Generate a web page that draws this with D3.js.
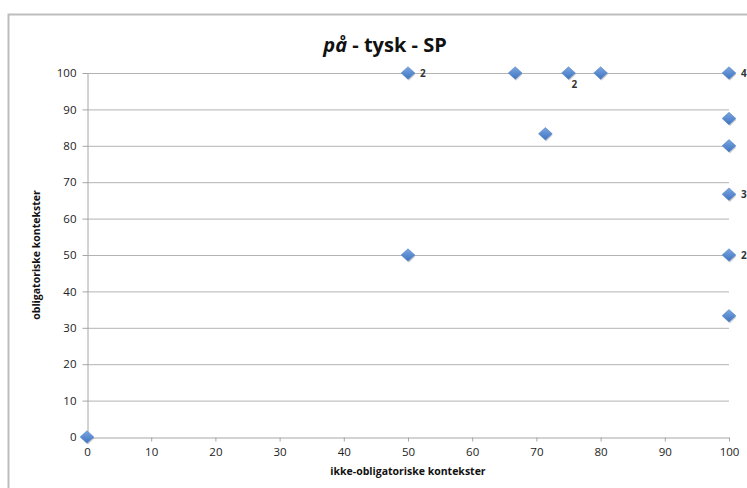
<!DOCTYPE html>
<html>
<head>
<meta charset="utf-8">
<script src="https://cdn.jsdelivr.net/npm/d3@7"></script>
<style>
  body { margin: 0; background: #fff; }
  svg { display: block; font-family: "Open Sans", "Liberation Sans", sans-serif; }
</style>
</head>
<body>
<svg id="chart"></svg>
<script>
// scatter points (ikke-obligatoriske, obligatoriske)
var xValues = [0, 50, 50, 66.7, 71.4, 75, 80, 100, 100, 100, 100, 100, 100];
var yValues = [0, 50, 100, 100, 83.3, 100, 100, 100, 87.5, 80, 66.7, 50, 33.3];
// count labels beside some points
var pointLabels = ["", "", "2", "", "", "2", "", "47", "", "", "3", "2", ""];
var xTicks = [0, 10, 20, 30, 40, 50, 60, 70, 80, 90, 100];
var yTicks = [0, 10, 20, 30, 40, 50, 60, 70, 80, 90, 100];

var points = xValues.map(function(x, i) {
  return { x: x, y: yValues[i], label: pointLabels[i] };
});

var svg = d3.select("#chart").attr("width", 747).attr("height", 488);

var margin = { left: 87, top: 73 },
  width = 642,
  height = 364;

var xScale = d3.scaleLinear().domain([0, 100]).range([0, width]);
var yScale = d3.scaleLinear().domain([0, 100]).range([height, 0]);

// outer chart frame (runs off the right and bottom edge)
svg.append("rect")
  .attr("x", 8.5).attr("y", 14.5)
  .attr("width", 800).attr("height", 500)
  .attr("fill", "none")
  .attr("stroke", "#bdbdbd")
  .attr("stroke-width", 2);

// title
var title = svg.append("text")
  .attr("x", 385).attr("y", 52)
  .attr("text-anchor", "middle")
  .attr("font-size", "20px")
  .attr("font-weight", "bold")
  .attr("fill", "#111");
title.append("tspan").attr("font-style", "italic").text("på");
title.append("tspan").text(" - tysk - SP");

var g = svg.append("g").attr("transform", "translate(" + margin.left + "," + margin.top + ")");

// gridlines
g.selectAll("line.grid")
  .data(yTicks.filter(function(d) { return d > 0; }))
  .enter()
  .append("line")
  .attr("class", "grid")
  .attr("x1", 0).attr("x2", width)
  .attr("y1", function(d) { return yScale(d) + 0.5; })
  .attr("y2", function(d) { return yScale(d) + 0.5; })
  .attr("stroke", "#b3b3b3")
  .attr("stroke-width", 1);

// x axis
var xAxis = g.append("g")
  .attr("transform", "translate(0," + (height + 0.5) + ")")
  .call(d3.axisBottom(xScale).tickValues(xTicks).tickSize(4).tickPadding(6).tickSizeOuter(0));

// y axis
var yAxis = g.append("g")
  .attr("transform", "translate(0.5,0)")
  .call(d3.axisLeft(yScale).tickValues(yTicks).tickSize(5).tickPadding(6).tickSizeOuter(0));

[xAxis, yAxis].forEach(function(ax) {
  ax.select(".domain").attr("stroke", "#a6a6a6");
  ax.selectAll(".tick line").attr("stroke", "#a6a6a6");
  ax.selectAll(".tick text")
    .attr("fill", "#222")
    .attr("font-size", "11.5px")
    .attr("font-family", "Open Sans, Liberation Sans, sans-serif");
});

// axis titles
svg.append("text")
  .attr("x", 408).attr("y", 475)
  .attr("text-anchor", "middle")
  .attr("font-size", "10.5px")
  .attr("font-weight", "bold")
  .attr("fill", "#111")
  .text("ikke-obligatoriske kontekster");

svg.append("text")
  .attr("transform", "translate(40,255) rotate(-90)")
  .attr("text-anchor", "middle")
  .attr("font-size", "10.5px")
  .attr("font-weight", "bold")
  .attr("fill", "#111")
  .text("obligatoriske kontekster");

// marker gradient
var defs = svg.append("defs");
var grad = defs.append("linearGradient")
  .attr("id", "dia").attr("x1", 0).attr("y1", 0).attr("x2", 0).attr("y2", 1);
grad.append("stop").attr("offset", "0%").attr("stop-color", "#7aa6e0");
grad.append("stop").attr("offset", "100%").attr("stop-color", "#3f74c2");

var diamond = d3.symbol().type(d3.symbolDiamond2).size(100);

// shadows
g.selectAll("path.shadow")
  .data(points)
  .enter()
  .append("path")
  .attr("class", "shadow")
  .attr("d", diamond)
  .attr("transform", function(d) {
    return "translate(" + (xScale(d.x) + 1) + "," + (yScale(d.y) + 1.5) + ")";
  })
  .attr("fill", "#000")
  .attr("opacity", 0.18);

g.selectAll("path.point")
  .data(points)
  .enter()
  .append("path")
  .attr("class", "point")
  .attr("d", diamond)
  .attr("transform", function(d) {
    return "translate(" + xScale(d.x) + "," + yScale(d.y) + ") scale(1.1,1)";
  })
  .attr("fill", "url(#dia)")
  .attr("stroke", "#4a7cc4")
  .attr("stroke-width", 0.5);

// point labels (the one at 75 sits below the marker)
g.selectAll("text.lbl")
  .data(points.filter(function(d) { return d.label !== ""; }))
  .enter()
  .append("text")
  .attr("class", "lbl")
  .attr("x", function(d) { return xScale(d.x) + (d.x === 75 ? 3 : 12); })
  .attr("y", function(d) { return yScale(d.y) + (d.x === 75 ? 15 : 4); })
  .attr("font-size", "10px")
  .attr("font-weight", "bold")
  .attr("fill", "#333")
  .text(function(d) { return d.label; });
</script>
</body>
</html>
